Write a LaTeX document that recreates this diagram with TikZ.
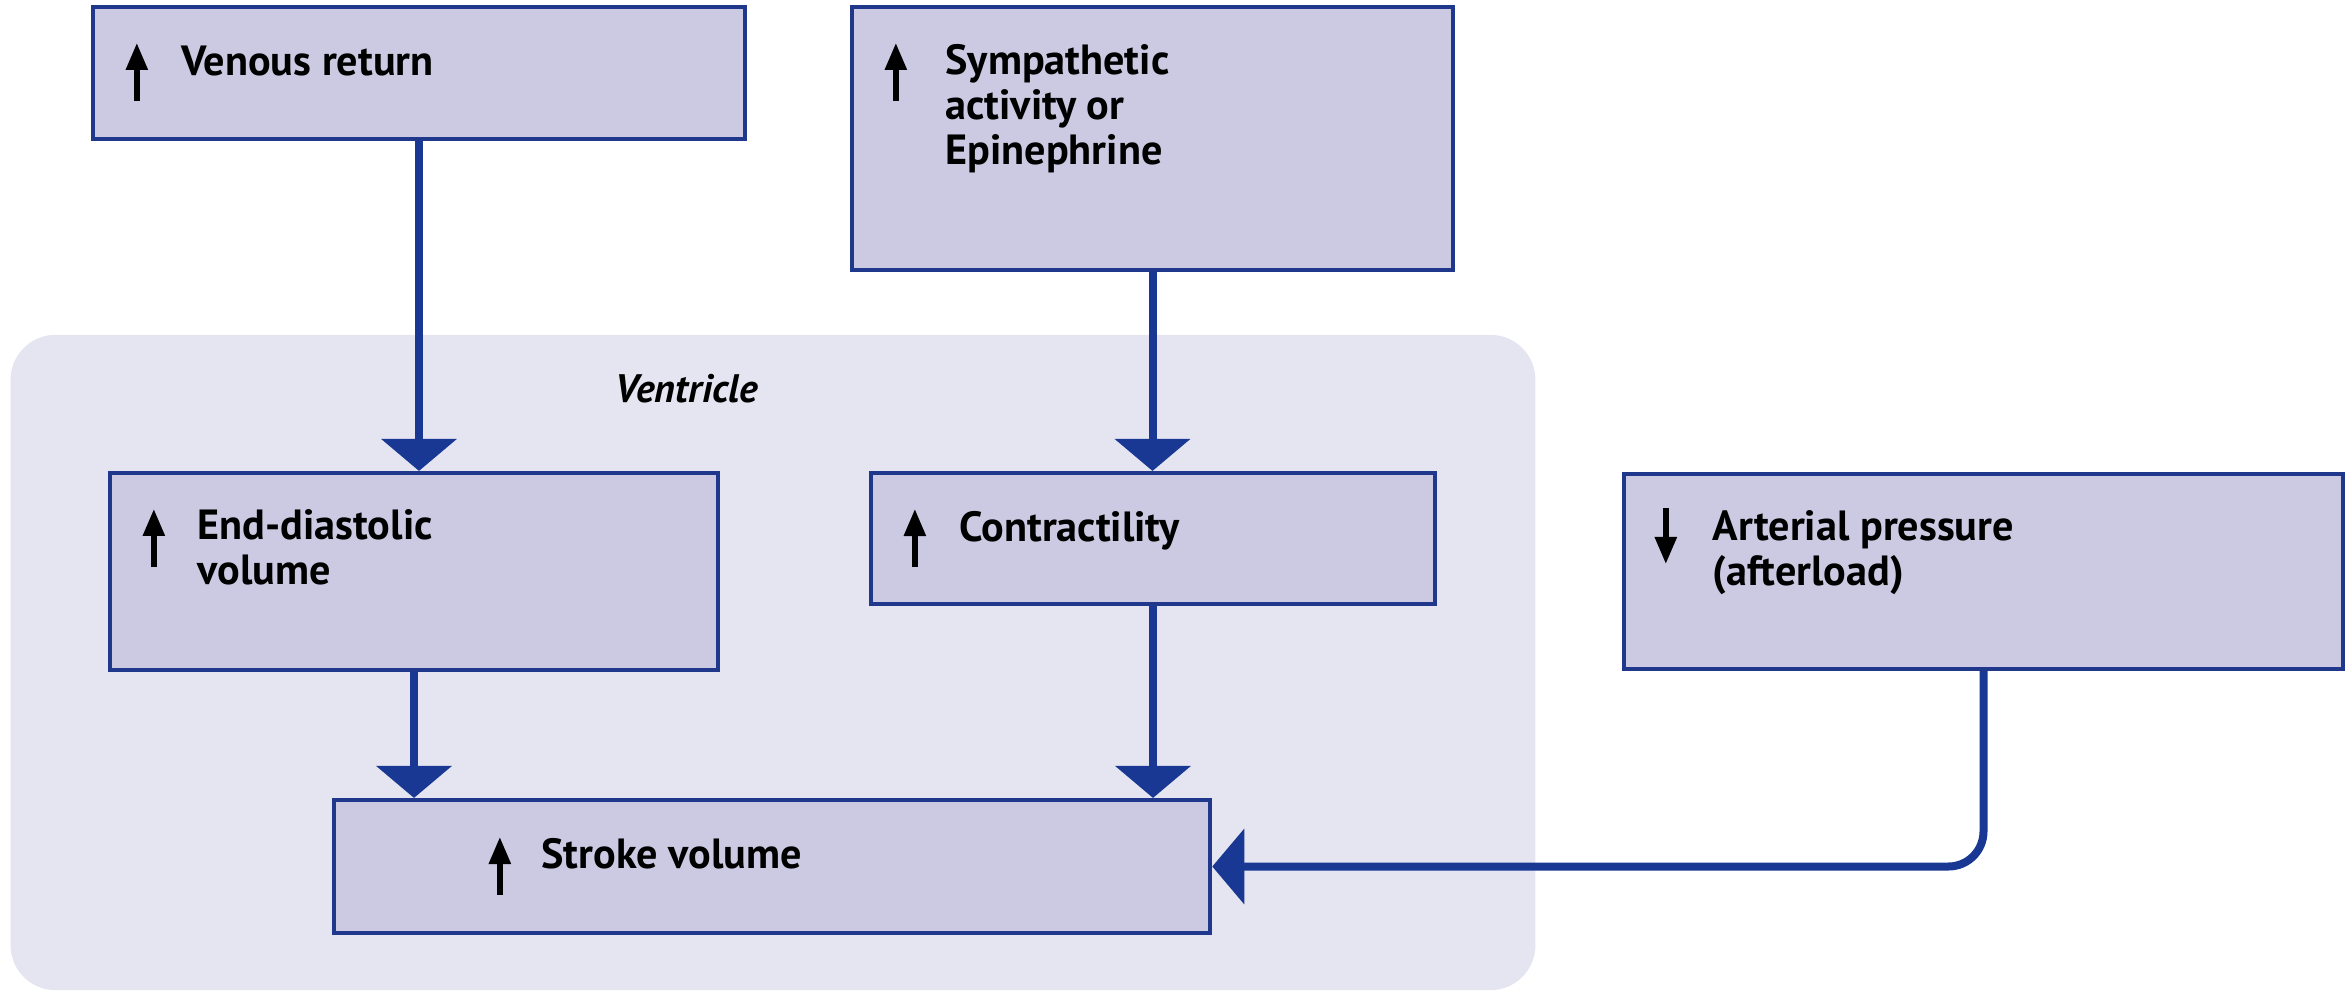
\documentclass[tikz,border=0pt]{standalone}
\usepackage{fontspec}
\setmainfont{PT Sans}
\usetikzlibrary{positioning,arrows.meta}

\definecolor{boxfill}{RGB}{203,202,226}
\definecolor{boxline}{RGB}{32,56,140}
\definecolor{flowblue}{RGB}{24,56,148}
\definecolor{panelfill}{RGB}{229,228,241}

\begin{document}
\begin{tikzpicture}[x=0.01cm, y=-0.01cm, every node/.style={font=\fontsize{12}{12.8}\selectfont\bfseries}]
  \tikzstyle{factor}=[draw=boxline, line width=0.04cm, fill=boxfill, inner sep=0pt]
  \tikzstyle{factortext}=[anchor=north west, align=left, inner sep=0pt, execute at begin node={\rule{0pt}{9pt}}]
  \tikzstyle{flow}=[-{Triangle[length=0.32cm,width=0.74cm]}, draw=flowblue, line width=0.08cm]
  \tikzstyle{trend}=[-{Triangle[length=0.27cm,width=0.21cm]}, line width=0.055cm, black]
  \useasboundingbox (0,0) rectangle (2351,994);

  % ventricle panel
  \node[fill=panelfill, rounded corners=0.45cm, minimum width=15.24cm, minimum height=6.55cm, inner sep=0pt] (ventricle) at (773,662.5) {};
  \node[anchor=base west, inner sep=0pt, font=\fontsize{11.3}{13}\selectfont\bfseries\itshape] (ventlbl) at (615,402) {Ventricle};

  % boxes
  \node[factor, minimum width=6.52cm, minimum height=1.32cm] (vr) at (419,73) {};
  \node[factor, minimum width=6.01cm, minimum height=2.63cm] (sa) at (1152.5,138.5) {};
  \node[factor, minimum width=6.08cm, minimum height=1.97cm] (edv) at (414,571.5) {};
  \node[factor, minimum width=5.64cm, minimum height=1.31cm] (contr) at (1153,538.5) {};
  \node[factor, minimum width=7.19cm, minimum height=1.95cm] (ap) at (1983.5,571.5) {};
  \node[factor, minimum width=8.76cm, minimum height=1.33cm] (sv) at (772,866.5) {};

  % texts (first baseline 0.7cm below the box top)
  \node[factortext] (vrtxt) at ([shift={(0.9cm,-0.383cm)}]vr.north west) {Venous return};
  \node[factortext] (satxt) at ([shift={(0.95cm,-0.383cm)}]sa.north west) {Sympathetic\\activity or\\Epinephrine};
  \node[factortext] (edvtxt) at ([shift={(0.89cm,-0.383cm)}]edv.north west) {End-diastolic\\volume};
  \node[factortext] (contrtxt) at ([shift={(0.9cm,-0.383cm)}]contr.north west) {Contractility};
  \node[factortext] (aptxt) at ([shift={(0.9cm,-0.383cm)}]ap.north west) {Arterial pressure\\(afterload)};
  \node[factortext] (svtxt) at ([shift={(2.09cm,-0.383cm)}]sv.north west) {Stroke volume};

  % up / down marks
  \foreach \b in {vr,sa,edv,contr}
    \draw[trend] ([shift={(0.46cm,-0.96cm)}]\b.north west) -- ([shift={(0.46cm,-0.38cm)}]\b.north west);
  \draw[trend] ([shift={(1.68cm,-0.97cm)}]sv.north west) -- ([shift={(1.68cm,-0.39cm)}]sv.north west);
  \draw[trend] ([shift={(0.44cm,-0.36cm)}]ap.north west) -- ([shift={(0.44cm,-0.92cm)}]ap.north west);

  % connectors
  \draw[flow] (vr.south) -- (vr.south |- edv.north);
  \draw[flow] (sa.south) -- (sa.south |- contr.north);
  \draw[flow] (edv.south) -- (edv.south |- sv.north);
  \draw[flow] (contr.south) -- (contr.south |- sv.north);
  \draw[flow, rounded corners=0.35cm] (ap.south) |- (sv.east);
\end{tikzpicture}
\end{document}
